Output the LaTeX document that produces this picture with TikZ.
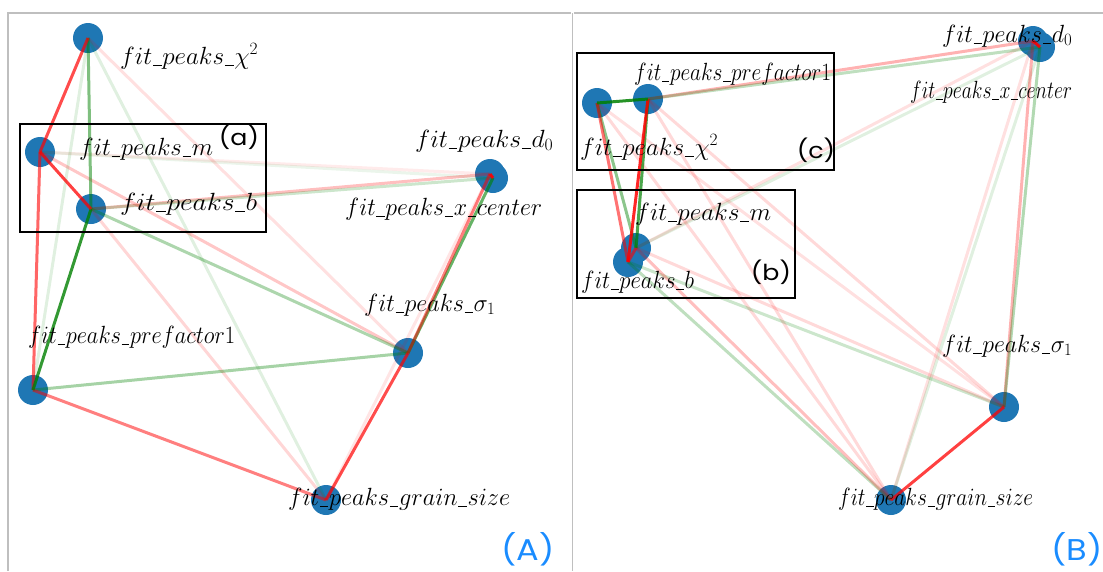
\documentclass[tikz,border=0pt]{standalone}
\usepackage{fontspec}
\newfontfamily\popp{Poppins}
\definecolor{nodeblue}{RGB}{31,119,180}
\definecolor{ered}{RGB}{255,0,0}
\definecolor{egreen}{RGB}{0,128,0}
\definecolor{tagblue}{RGB}{26,140,255}
\newlength\lblw
\newcommand\us{\kern0.03em\rule[-0.07em]{0.34em}{0.045em}\kern0.03em}
% #1 = target width in pt, #2 = math text
\newcommand\lbl[2]{\settowidth\lblw{$#2$}\pgfmathsetmacro\lblf{#1/\lblw}\scalebox{\lblf}[1]{$#2$}}
\tikzset{
 vtx/.style={circle,fill=nodeblue,inner sep=0pt,minimum size=30pt},
 lab/.style={anchor=base west,inner sep=0pt,font=\fontsize{25}{30}\selectfont},
 edgeline/.style={line width=3pt},
 redE/.style={edgeline,draw=ered,draw opacity=#1},
 grnE/.style={edgeline,draw=egreen,draw opacity=#1},
 boxframe/.style={draw=black,line width=2.4pt},
 tag/.style={font=\popp\fontsize{22}{26}\selectfont,inner sep=0pt},
 bigtag/.style={font=\popp\fontsize{30}{34}\selectfont,text=tagblue,inner sep=0pt},
 border/.style={draw=black!25,line width=1.2pt}
}
\begin{document}
\begin{tikzpicture}[x=1pt,y=-1pt]
\useasboundingbox (0,0) rectangle (1103,571);
% panel borders
\draw[border] (8,571) -- (8,13) -- (571,13);
\draw[border] (572.5,13) -- (572.5,571);
\draw[border] (574,13) -- (1103,13);

% ---------- panel A nodes ----------
\node[vtx] (Lchi) at (88,38) {};
\node[vtx] (Lm) at (40,152) {};
\node[vtx] (Lb) at (91,209) {};
\node[vtx] (Lxc) at (493,178) {};
\node[vtx] (Ld) at (490,174) {};
\node[vtx] (Lpre) at (33,390) {};
\node[vtx] (Ls) at (408,353) {};
\node[vtx] (Lg) at (326,500) {};

% ---------- panel A edges ----------
\draw[grnE=0.12] (Lchi.center) -- (Lpre.center);
\draw[grnE=0.12] (Lchi.center) -- (Lg.center);
\draw[redE=0.12] (Lchi.center) -- (Ls.center);
\draw[redE=0.08] (Lm.center) -- (Ld.center);
\draw[grnE=0.08] (Lm.center) -- (Lxc.center);
\draw[redE=0.25] (Lb.center) -- (Ld.center);
\draw[grnE=0.2] (Lb.center) -- (Lxc.center);
\draw[redE=0.22] (Lm.center) -- (Ls.center);
\draw[grnE=0.32] (Lb.center) -- (Ls.center);
\draw[redE=0.16] (Lb.center) -- (Lg.center);
\draw[redE=0.1] (Ld.center) -- (Lg.center);
\draw[grnE=0.35] (Lpre.center) -- (Ls.center);
\draw[redE=0.5] (Lpre.center) -- (Lg.center);
\draw[grnE=0.5] (Lchi.center) -- (Lb.center);
\draw[redE=0.6] (Lm.center) -- (Lpre.center);
\draw[grnE=0.8] (Lb.center) -- (Lpre.center);
\draw[redE=0.7] (Lchi.center) -- (Lm.center);
\draw[redE=0.75] (Lm.center) -- (Lb.center);
\draw[grnE=0.6] (Lxc.center) -- (Ls.center);
\draw[redE=0.5] (Ld.center) -- (Ls.center);
\draw[redE=0.7] (Ls.center) -- (Lg.center);
\draw[redE=0.9] (Ld.center) -- (Lxc.center);

% ---------- panel A labels ----------
\node[lab] (tLchi) at (120,64) {\lbl{138}{fit\us peaks\us \chi^2}};
\node[lab] (tLm) at (79,155) {\lbl{134}{fit\us peaks\us m}};
\node[lab] (tLb) at (120,210) {\lbl{137}{fit\us peaks\us b}};
\node[lab] (tLd) at (415,147) {\lbl{138}{fit\us peaks\us d_0}};
\node[lab] (tLxc) at (345,215) {\lbl{197}{fit\us peaks\us x\us center}};
\node[lab] (tLs) at (364,311) {\lbl{131}{fit\us peaks\us \sigma_1}};
\node[lab] (tLpre) at (28,343) {\lbl{207}{fit\us peaks\us prefactor1}};
\node[lab] (tLg) at (288,505) {\lbl{222}{fit\us peaks\us grain\us size}};

\draw[boxframe] (20,124) rectangle (266,232);
\node[tag] (ta) at (239,137) {\scalebox{1.15}[1]{(a)}};
\node[bigtag] (tA) at (528,549) {\scalebox{1.12}[1]{(A)}};

% ---------- panel B nodes ----------
\node[vtx] (Rchi) at (597,103) {};
\node[vtx] (Rpre) at (648,99) {};
\node[vtx] (Rm) at (636,248) {};
\node[vtx] (Rb) at (628,262) {};
\node[vtx] (Rd) at (1033,41) {};
\node[vtx] (Rxc) at (1040,47) {};
\node[vtx] (Rs) at (1004,407) {};
\node[vtx] (Rg) at (891,500) {};

% ---------- panel B edges ----------
\draw[redE=0.12] (Rm.center) -- (Rd.center);
\draw[grnE=0.12] (Rm.center) -- (Rxc.center);
\draw[redE=0.12] (Rd.center) -- (Rg.center);
\draw[grnE=0.12] (Rxc.center) -- (Rg.center);
\draw[redE=0.3] (Rd.center) -- (Rs.center);
\draw[grnE=0.3] (Rxc.center) -- (Rs.center);
\draw[redE=0.15] (Rpre.center) -- (Rg.center);
\draw[redE=0.15] (Rpre.center) -- (Rs.center);
\draw[redE=0.15] (Rchi.center) -- (Rg.center);
\draw[redE=0.12] (Rchi.center) -- (Rs.center);
\draw[grnE=0.2] (Rb.center) -- (Rs.center);
\draw[redE=0.15] (Rm.center) -- (Rs.center);
\draw[grnE=0.25] (Rb.center) -- (Rg.center);
\draw[redE=0.25] (Rm.center) -- (Rg.center);
\draw[redE=0.3] (Rpre.center) -- (Rd.center);
\draw[grnE=0.25] (Rpre.center) -- (Rxc.center);
\draw[grnE=0.45] (Rchi.center) -- (Rm.center);
\draw[redE=0.55] (Rchi.center) -- (Rb.center);
\draw[grnE=0.7] (Rpre.center) -- (Rm.center);
\draw[redE=0.85] (Rpre.center) -- (Rb.center);
\draw[grnE=0.85] (Rchi.center) -- (Rpre.center);
\draw[redE=0.6] (Rm.center) -- (Rb.center);
\draw[redE=0.75] (Rs.center) -- (Rg.center);
\draw[redE=0.9] (Rd.center) -- (Rxc.center);

% ---------- panel B labels ----------
\node[lab] (tRd) at (942,42) {\lbl{130}{fit\us peaks\us d_0}};
\node[lab] (tRxc) at (910,98) {\lbl{162}{fit\us peaks\us x\us center}};
\node[lab] (tRpre) at (634,80) {\lbl{197}{fit\us peaks\us prefactor1}};
\node[lab] (tRchi) at (580,155) {\lbl{138}{fit\us peaks\us \chi^2}};
\node[lab] (tRm) at (635,220) {\lbl{136}{fit\us peaks\us m}};
\node[lab] (tRb) at (581,288) {\lbl{113}{fit\us peaks\us b}};
\node[lab] (tRs) at (942,352) {\lbl{130}{fit\us peaks\us \sigma_1}};
\node[lab] (tRg) at (838,505) {\lbl{195}{fit\us peaks\us grain\us size}};

\draw[boxframe] (577,53) rectangle (834,170);
\draw[boxframe] (577,190) rectangle (795,298);
\node[tag] (tc) at (816,150) {\scalebox{1.15}[1]{(c)}};
\node[tag] (tb) at (771,272) {\scalebox{1.15}[1]{(b)}};
\node[bigtag] (tB) at (1077,549) {\scalebox{1.12}[1]{(B)}};
\end{tikzpicture}
\end{document}
